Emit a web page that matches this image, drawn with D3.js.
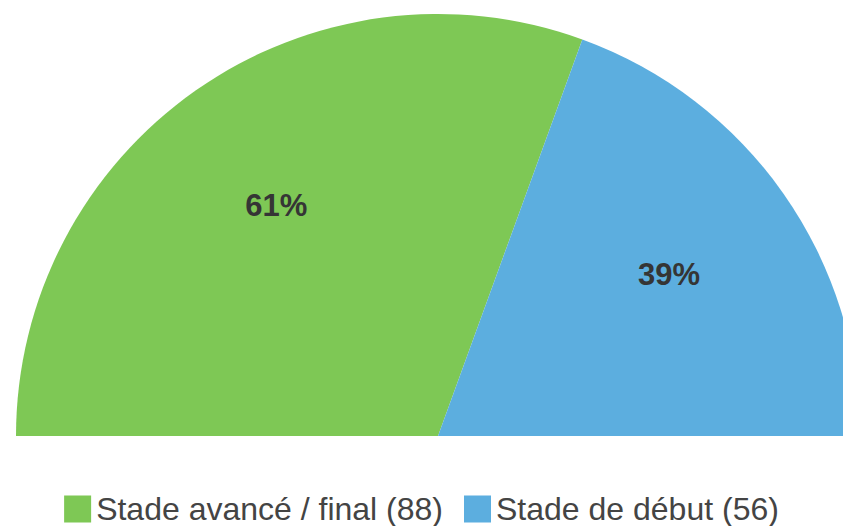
<!DOCTYPE html>
<html>
<head>
<meta charset="utf-8">
<script src="https://cdn.jsdelivr.net/npm/d3@7"></script>
<style>
  html, body { margin: 0; padding: 0; background: #fff; }
</style>
</head>
<body>
<svg id="chart"></svg>
<script>
// Data
const categories = ["Stade avancé / final", "Stade de début"];
const counts = [88, 56];
const colors = ["#7ec855", "#5caedf"];

// SVG setup
const W = 843, H = 526;
const svg = d3.select("#chart").attr("width", W).attr("height", H);

const cx = 438, cy = 436, radius = 422;
const g = svg.append("g").attr("transform", `translate(${cx},${cy})`);

const pie = d3.pie().sort(null)
  .startAngle(-Math.PI / 2)
  .endAngle(Math.PI / 2)
  .value((d) => d);
const arcs = pie(counts);

const arc = d3.arc().innerRadius(0).outerRadius(radius);
const labelArc = d3.arc().innerRadius(282).outerRadius(282);
const total = d3.sum(counts);

g.selectAll("path")
  .data(arcs)
  .enter()
  .append("path")
  .attr("d", arc)
  .attr("fill", (d, i) => colors[i]);

g.selectAll("text.pct")
  .data(arcs)
  .enter()
  .append("text")
  .attr("class", "pct")
  .attr("transform", (d) => `translate(${labelArc.centroid(d)})`)
  .attr("text-anchor", "middle")
  .attr("dy", "0.36em")
  .attr("font-family", "'Liberation Sans', Arial, sans-serif")
  .attr("font-weight", "bold")
  .attr("font-size", "31px")
  .attr("fill", "#353535")
  .text((d) => Math.round((d.value / total) * 100) + "%");

// Legend
const legend = svg.append("g");
const items = legend.selectAll("g")
  .data(categories)
  .enter()
  .append("g");

items.append("rect")
  .attr("width", 27)
  .attr("height", 27)
  .attr("y", -13.5)
  .attr("fill", (d, i) => colors[i]);

items.append("text")
  .attr("x", 32)
  .attr("dy", "0.35em")
  .attr("font-family", "'Liberation Sans', Arial, sans-serif")
  .attr("font-size", "32px")
  .attr("fill", "#444")
  .text((d, i) => `${d} (${counts[i]})`);

let xOff = 0;
items.each(function () {
  d3.select(this).attr("transform", `translate(${xOff},0)`);
  xOff += this.getBBox().width + 21;
});
const legendW = xOff - 21;
legend.attr("transform", `translate(${(W - legendW) / 2},${509})`);
</script>
</body>
</html>
